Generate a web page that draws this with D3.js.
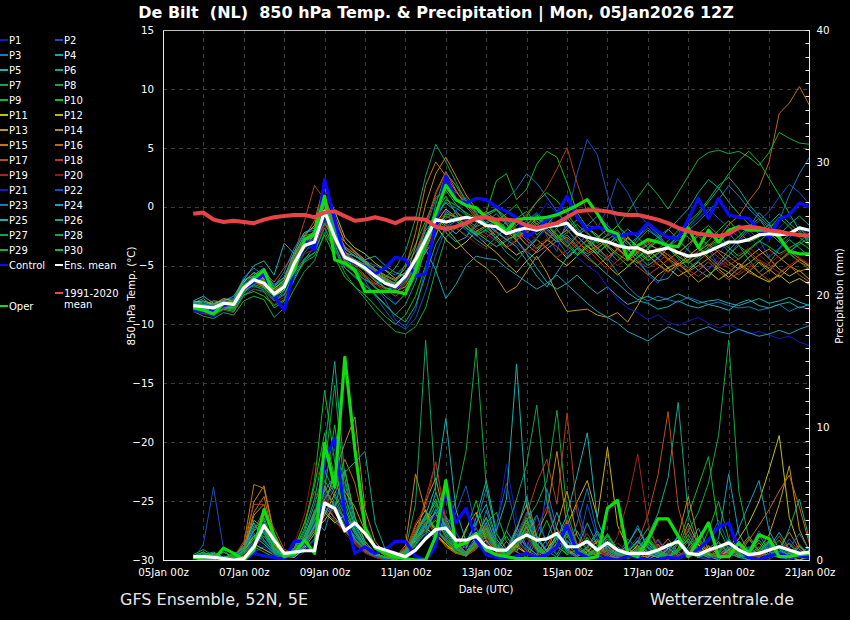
<!DOCTYPE html>
<html><head><meta charset="utf-8">
<script src="https://cdn.jsdelivr.net/npm/d3@7"></script>
<style>html,body{margin:0;background:#000;} svg{display:block;font-family:"DejaVu Sans",sans-serif;}</style>
</head><body><svg id="c" width="850" height="620"></svg>
<script>
// ---------- DATA ----------
const runStartUTC = Date.UTC(2026,0,5,18); // first forecast step
const stepHours = 6;
const xTickDays = [5,7,9,11,13,15,17,19,21];
const tempTicks = [15,10,5,0,-5,-10,-15,-20,-25,-30];
const precipTicks = [0,10,20,30,40];
const memberNames = d3.range(1,31).map(i=>"P"+i);
const memberColors = ["#1818c8","#1850c0","#1878c0","#18a0c0","#18b0b0","#10a888","#10a060","#10a840","#10b828","#10c010",
                      "#c0c010","#c8b010","#c09810","#c08810","#c07810","#c06810","#b85010","#b04018","#a02818","#901818",
                      "#1818c8","#1850c0","#1878c0","#18a0c0","#18b0b0","#10a888","#10a060","#10a840","#10b828","#10c010"];

const ensMeanTemp = [-8.4,-8.5,-8.6,-8.2,-8.3,-6.9,-6.2,-6.5,-7.4,-6.8,-4.8,-3.3,-3.0,-0.4,-2.6,-4.3,-4.7,-5.2,-5.9,-6.5,-6.8,-5.9,-4.5,-2.8,-1.1,-1.3,-1.1,-0.9,-1.1,
  -1.6,-1.7,-2.3,-2.0,-1.8,-2.0,-1.7,-1.6,-1.4,-2.3,-2.6,-2.8,-3.0,-3.3,-3.5,-3.5,-3.9,-3.7,-3.5,-3.9,-4.2,-4.1,-3.8,-3.4,-3.0,-3.0,-2.8,-2.4,-2.3,-2.4,-2.3,-1.8,-2.0];
const controlTemp = [-8.8,-8.9,-8.9,-8.4,-8.2,-6.9,-6.4,-5.7,-7.6,-8.8,-5.4,-2.8,-3.7,2.3,-1.1,-4.3,-4.8,-5.1,-5.7,-5.2,-4.3,-4.5,-5.9,-5.7,-1.4,2.6,0.6,0.3,0.7,
  0.6,0.0,-0.4,-0.9,-2.6,-2.0,-1.1,-0.6,0.9,-0.9,-2.0,-1.7,-2.0,-2.6,-2.3,-2.3,-1.4,-2.1,-2.6,-2.7,-1.1,0.7,-1.0,0.7,-0.7,-0.9,-1.0,-2.0,-2.6,-1.1,-0.7,0.3,0.0];
const operTemp = [-8.6,-8.8,-9.1,-8.2,-8.2,-6.8,-6.1,-5.4,-7.5,-6.8,-5.4,-2.8,-2.3,0.9,-4.5,-4.8,-5.4,-7.2,-7.2,-7.2,-7.2,-7.4,-5.4,-2.8,-0.6,1.8,0.6,0.1,-0.1,
  -0.9,-1.4,-2.1,-1.1,-1.0,-1.0,-0.9,-0.7,-0.3,0.1,0.6,-0.6,-2.0,-2.3,-4.4,-3.3,-2.8,-3.0,-3.3,-3.4,-1.8,-3.5,-2.0,-3.0,-2.0,-1.7,-2.0,-2.0,-2.0,-2.6,-3.8,-4.0,-4.0];
const climTemp = [-0.6,-0.5,-1.1,-1.3,-1.2,-1.3,-1.4,-1.1,-0.9,-0.8,-0.7,-0.7,-0.9,-0.5,-0.4,-0.8,-1.2,-1.1,-0.9,-1.1,-1.4,-1.0,-1.0,-1.1,-1.7,-1.9,-1.7,-1.4,-1.0,
  -0.9,-1.1,-1.1,-1.2,-1.6,-1.8,-1.6,-1.4,-0.9,-0.4,-0.3,-0.3,-0.4,-0.6,-0.7,-0.7,-0.9,-1.1,-1.4,-1.8,-2.1,-2.3,-2.4,-2.5,-2.3,-1.8,-1.7,-1.8,-2.0,-2.1,-2.3,-2.4,-2.5];

const ensMeanPrecip = [0.25,0.25,0.2,0.1,0,0.1,1.0,2.6,1.5,0.5,0.6,0.7,0.7,4.3,3.9,2.2,2.8,2.0,1.0,0.75,0.5,0.25,0.75,1.6,2.3,2.4,1.5,1.5,1.8,
  1.0,0.75,0.75,1.5,1.9,1.5,1.6,2.0,1.0,1.0,1.4,0.75,1.3,0.75,0.5,0.5,0.5,0.75,1.1,1.4,0.5,0.4,0.75,1.0,1.3,0.75,0.4,0.5,0.75,1.0,0.75,0.5,0.6];
const controlPrecip = [0,0,0,0,0,0,0.5,0.3,0.2,0,1.4,1.4,0.5,7.5,9.2,3.5,0.5,1.0,0.5,0.8,1.4,1.4,0.3,0,1.0,5.6,2.8,3.9,1.5,0.4,
  0.2,0,0.3,0.5,0.2,0.4,1.0,2.6,0.6,0.2,0,0.1,0,0.3,0.2,0,0,0.2,0.1,0.5,0.8,1.5,2.5,2.8,0.8,0.2,0,0.3,0.5,0.2,0.3,0.2];
const operPrecip = [0.25,0,0,0.9,0.5,0,0.75,3.8,1.8,0.25,0.5,1.5,0.5,8.8,5.5,15.3,8.3,2.5,0.9,0.5,0.25,0.1,0,0,1.8,6.0,1.0,1.3,2.0,
  0.75,0.4,0.25,0.1,0.1,0.1,0.1,0.1,0.1,0.1,0.1,0.25,3.9,4.5,0.5,0.25,1.5,3.1,3.1,1.8,0.25,1.5,2.8,0.25,0.25,1.3,0.5,1.9,1.6,0.25,0.25,0.4,0.5];

const memberTemp = [
 /*P1*/[-8.6,-8.8,-9.0,-8.5,-8.4,-7.2,-6.5,-6.0,-7.8,-7.0,-5.5,-3.6,-2.8,0.5,-1.8,-4.0,-4.6,-5.5,-6.3,-7.4,-8.2,-7.5,-6.0,-3.5,-0.8,-0.3,-0.8,-1.5,-0.6,-1.2,-2.0,-1.5,-0.9,-2.4,-1.0,0.3,-0.5,-1.8,-3.1,-2.6,-3.4,-4.5,-3.8,-2.9,-4.1,-5.0,-4.3,-3.2,-2.6,-3.8,-4.7,-5.3,-4.1,-2.8,-1.5,-2.3,-3.6,-2.9,-1.8,-0.9,-1.6,-2.4],
 /*P2*/[-8.3,-8.4,-8.8,-8.0,-8.1,-6.5,-5.8,-6.8,-7.2,-6.0,-4.0,-2.6,-3.5,-1.2,-3.4,-5.0,-5.6,-6.2,-6.8,-7.9,-9.6,-10.2,-8.8,-5.2,-2.0,-1.6,-0.4,0.8,-0.5,-1.8,-2.5,-3.4,-2.0,-1.2,-0.6,-2.5,-3.8,-1.0,2.8,5.7,4.4,1.0,-1.5,-3.0,-4.4,-5.8,-6.5,-5.2,-4.6,-3.5,-2.2,-3.6,-5.0,-4.2,-3.0,-2.0,-2.8,-4.3,-3.5,-2.6,-1.8,-2.5],
 /*P3*/[-8.0,-8.2,-8.4,-7.9,-7.8,-6.0,-5.2,-5.9,-6.8,-5.5,-3.5,-2.2,-2.0,0.8,-1.5,-3.6,-4.2,-4.6,-5.0,-5.4,-5.8,-5.0,-3.8,-1.8,0.6,1.6,1.2,0.5,-0.4,-0.8,-1.2,-1.0,-2.2,-3.3,-2.6,-1.8,-2.8,-4.0,-3.2,-2.4,-3.6,-4.4,-5.6,-6.8,-7.6,-8.0,-7.6,-7.9,-8.1,-7.7,-8.0,-8.3,-8.1,-8.4,-8.6,-8.5,-8.8,-8.6,-8.3,-8.9,-8.5,-8.7],
 /*P4*/[-8.2,-7.8,-8.5,-8.1,-8.6,-7.4,-6.0,-5.5,-7.9,-7.4,-5.8,-4.6,-3.9,-1.5,-2.2,-3.8,-4.8,-5.2,-6.0,-6.9,-7.0,-6.2,-5.2,-3.9,-2.5,-0.4,-1.0,-1.8,-2.4,-2.0,-2.7,-3.5,-2.9,-3.8,-4.5,-3.6,-2.9,-1.6,-2.5,-3.4,-4.0,-3.2,-2.5,-3.6,-4.7,-5.6,-6.3,-6.1,-5.0,-4.6,-5.4,-6.0,-4.8,-3.7,-2.8,-1.8,-0.5,-1.4,-2.8,-3.9,-3.0,-2.2],
 /*P5*/[-8.0,-7.6,-8.2,-8.0,-7.6,-6.2,-5.0,-4.6,-5.8,-3.1,-4.0,-3.0,-2.5,0.2,-2.0,-3.0,-3.8,-4.5,-4.2,-5.0,-5.6,-5.9,-4.3,-2.0,-1.0,-2.2,-3.0,-2.6,-1.4,-0.6,-0.2,-1.4,-2.8,-4.0,-5.2,-6.4,-7.0,-6.5,-5.8,-6.7,-7.4,-6.8,-7.6,-8.3,-8.0,-8.2,-8.7,-8.5,-8.0,-8.4,-8.6,-8.3,-8.5,-8.8,-8.2,-7.9,-8.4,-8.6,-8.3,-8.1,-8.6,-8.3],
 /*P6*/[-8.8,-9.0,-9.2,-8.6,-8.8,-7.5,-7.0,-7.2,-8.6,-8.0,-6.2,-4.5,-3.4,-0.9,-3.2,-5.2,-6.0,-6.7,-7.4,-8.3,-9.2,-9.8,-8.4,-5.8,-3.2,-1.8,-1.2,-2.0,-2.8,-3.4,-2.6,-1.8,-1.0,-0.4,-1.5,-2.3,-3.0,-2.4,-3.3,-4.2,-3.6,-2.8,-2.2,-3.0,-4.1,-5.0,-4.4,-3.5,-2.4,-1.3,-0.5,0.6,1.8,2.5,1.5,0.2,-0.8,-1.6,-2.4,-1.5,-0.8,-1.6],
 /*P7*/[-8.5,-8.6,-8.4,-8.3,-8.0,-6.6,-6.8,-7.0,-7.6,-6.3,-4.4,-3.6,-2.6,-0.2,-2.3,-4.8,-5.6,-6.2,-6.6,-6.0,-5.2,-3.8,-1.0,2.6,5.3,3.8,2.1,0.4,-0.6,-1.4,-1.0,-2.1,-2.8,-2.2,-1.5,-0.8,-1.9,-3.0,-4.0,-3.2,-2.5,-3.7,-4.6,-3.8,-2.9,-2.0,-2.6,-3.5,-4.4,-5.2,-4.6,-3.9,-3.0,-2.2,-3.3,-4.5,-5.6,-4.8,-3.6,-2.8,-3.5,-4.2],
 /*P8*/[-8.9,-9.3,-9.5,-9.0,-9.2,-8.0,-7.6,-7.9,-9.4,-8.6,-7.0,-5.5,-4.6,-2.2,-3.6,-5.6,-6.8,-7.8,-8.9,-9.8,-10.6,-10.8,-10.2,-8.6,-5.4,-2.6,-1.8,-2.5,-1.6,-0.8,-0.3,-1.0,-1.9,-2.6,-3.5,-2.9,-1.8,-0.9,-2.0,-2.8,-3.9,-4.6,-3.5,-2.7,-3.4,-4.3,-3.6,-2.9,-2.0,-2.6,-3.4,-4.2,-5.0,-4.1,-3.3,-4.0,-4.8,-5.5,-4.6,-4.0,-4.7,-5.1],
 /*P9*/[-8.4,-8.3,-8.7,-8.2,-8.3,-6.8,-6.0,-5.8,-6.9,-6.4,-4.5,-2.8,-3.2,-0.8,-3.0,-4.6,-5.4,-6.0,-6.9,-7.3,-6.4,-4.9,-3.2,-1.2,0.8,1.4,0.2,-0.6,-1.3,-0.5,2.2,2.8,0.6,1.5,3.6,4.7,4.2,2.0,-0.5,-1.8,-2.6,-1.9,-3.0,-3.8,-2.6,-1.5,-2.3,-3.4,-4.0,-3.2,-2.3,-1.6,-2.4,-3.3,-2.5,-1.7,-1.0,-2.2,-3.0,-2.4,-1.9,-2.6],
 /*P10*/[-8.7,-8.5,-9.0,-8.4,-8.7,-7.3,-6.6,-6.9,-7.9,-7.2,-5.2,-3.9,-2.9,0.9,-2.0,-4.2,-4.5,-4.9,-5.7,-6.3,-6.6,-6.0,-4.6,-3.0,-0.5,0.9,-0.6,-1.8,-2.5,-1.9,-1.2,-0.6,0.2,-1.2,-2.4,-1.6,-0.4,0.7,-0.8,-2.2,-3.1,-2.4,-1.6,-2.5,-3.7,-4.5,-3.9,-3.2,-3.8,-4.6,-3.8,-2.9,-2.0,-1.2,-2.1,-3.0,-2.6,-1.8,-0.9,-1.7,-2.6,-3.3],
 /*P11*/[-8.1,-8.0,-8.3,-7.8,-8.0,-6.4,-5.6,-6.1,-7.0,-6.2,-4.2,-2.4,-1.6,1.6,-0.4,-2.6,-3.5,-4.0,-4.8,-5.4,-6.1,-5.6,-4.4,-2.6,-1.6,-2.8,-3.6,-3.0,-2.1,-1.6,-2.5,-3.4,-4.1,-3.6,-2.8,-3.5,-4.4,-5.0,-4.2,-3.3,-4.1,-5.0,-5.8,-5.1,-4.3,-3.6,-4.4,-5.2,-5.9,-5.4,-4.7,-5.5,-6.2,-5.6,-4.8,-5.4,-6.0,-6.4,-5.8,-6.5,-6.1,-6.6],
 /*P12*/[-8.6,-8.9,-8.8,-8.5,-8.6,-7.0,-6.4,-6.8,-7.6,-7.1,-5.0,-3.0,-3.6,-0.6,-2.9,-4.4,-4.9,-5.4,-6.3,-6.9,-7.2,-6.8,-5.4,-3.8,-1.4,-0.2,-0.9,-1.5,-2.4,-3.2,-3.9,-4.8,-5.6,-4.6,-3.8,-2.8,-3.4,-4.4,-3.6,-2.8,-3.5,-4.3,-3.6,-2.6,-3.4,-4.1,-4.9,-5.5,-4.9,-4.2,-3.5,-4.4,-5.3,-6.0,-5.2,-4.3,-3.6,-4.4,-5.3,-5.9,-5.4,-6.2],
 /*P13*/[-8.2,-8.4,-8.0,-8.1,-7.9,-6.2,-5.9,-6.4,-7.2,-6.6,-4.6,-3.4,-2.4,0.4,-1.6,-3.4,-4.0,-4.8,-5.6,-6.2,-7.0,-6.4,-5.0,-2.6,-0.9,-1.8,-2.8,-3.8,-4.6,-5.2,-6.0,-7.3,-6.8,-5.5,-4.2,-5.6,-7.4,-8.9,-8.8,-8.7,-9.2,-9.4,-9.0,-9.8,-8.4,-6.8,-5.8,-5.2,-4.8,-5.6,-6.4,-5.8,-5.1,-5.6,-6.2,-5.5,-4.7,-5.3,-6.0,-5.2,-4.5,-5.0],
 /*P14*/[-8.4,-8.6,-8.2,-8.4,-8.2,-6.6,-6.2,-6.1,-7.4,-6.7,-4.7,-3.2,-2.0,1.8,-0.8,-3.0,-3.8,-4.7,-5.5,-6.1,-6.5,-6.0,-3.4,0.2,2.8,4.2,2.6,1.0,-0.2,-0.9,-1.5,-2.0,-2.9,-1.8,-1.0,-1.5,-2.6,-3.4,-2.5,-1.8,-2.4,-3.3,-4.0,-4.6,-3.9,-3.2,-3.6,-4.4,-5.0,-4.5,-3.8,-3.2,-3.9,-4.7,-5.3,-4.8,-4.1,-3.6,-4.3,-5.0,-5.5,-5.2],
 /*P15*/[-8.5,-8.7,-8.6,-8.3,-8.5,-6.8,-6.4,-6.7,-7.5,-6.9,-4.9,-3.5,-2.6,0.9,-1.5,-3.5,-4.2,-4.6,-5.3,-5.8,-6.2,-5.2,-2.2,1.8,3.8,2.6,1.3,0.2,-0.8,-1.5,-2.2,-2.8,-2.4,-3.2,-3.9,-3.3,-2.6,-2.0,-2.9,-3.8,-3.3,-2.7,-3.5,-4.3,-4.8,-4.2,-3.5,-4.1,-4.9,-5.5,-5.0,-4.4,-3.7,-4.2,-4.9,-5.6,-6.0,-5.4,-4.6,-3.8,-4.4,-5.1],
 /*P16*/[-8.3,-8.5,-8.4,-8.0,-8.2,-6.7,-6.0,-6.2,-7.1,-6.5,-4.4,-2.6,-1.2,2.0,-1.0,-3.0,-3.9,-4.6,-5.4,-6.0,-6.6,-6.1,-4.2,-1.6,1.2,3.0,1.4,0.0,-1.0,-0.4,-1.2,-1.9,-2.6,-2.0,-1.4,-2.2,-3.0,-2.6,-3.4,-4.0,-3.5,-2.9,-3.6,-4.4,-3.8,-3.0,-3.7,-4.5,-3.9,-3.2,-2.5,-3.3,-2.6,-1.5,-0.8,0.5,1.6,3.8,7.9,8.8,10.2,8.6],
 /*P17*/[-8.7,-8.8,-9.1,-8.6,-8.7,-7.1,-6.5,-5.6,-6.4,-5.2,-4.0,-2.9,-3.1,-1.4,-3.0,-4.6,-5.0,-5.8,-6.5,-7.0,-7.6,-7.0,-5.8,-3.4,-1.7,-1.0,-0.5,-1.2,-2.0,-2.6,-2.0,-1.3,-2.0,-2.9,-3.6,-2.9,-2.0,-2.8,-3.6,-4.4,-5.0,-4.3,-3.6,-4.3,-5.1,-5.8,-5.2,-4.5,-5.3,-6.0,-5.4,-4.7,-5.5,-6.2,-5.6,-4.8,-5.6,-6.3,-5.7,-5.0,-5.8,-6.4],
 /*P18*/[-8.6,-8.6,-8.9,-8.4,-8.5,-7.0,-6.5,-6.6,-7.3,-6.5,-4.0,-1.2,1.8,0.6,-1.6,-3.8,-4.5,-5.0,-5.7,-6.4,-6.9,-6.3,-4.6,-1.5,1.0,2.9,1.8,0.2,-0.7,-1.0,-1.6,-2.2,-1.6,-0.6,0.4,1.6,3.2,5.0,2.0,-0.5,-1.6,-2.5,-2.0,-3.0,-3.8,-3.2,-2.6,-3.4,-4.2,-4.8,-4.2,-3.6,-4.3,-5.0,-4.4,-3.8,-4.6,-5.2,-4.6,-3.9,-4.7,-5.3],
 /*P19*/[-8.4,-8.5,-8.6,-8.2,-8.4,-6.9,-6.1,-6.5,-7.4,-6.6,-4.6,-3.1,-2.7,-0.1,-2.4,-4.0,-4.6,-5.2,-5.9,-6.6,-7.1,-6.4,-5.0,-3.2,-1.3,-0.6,-0.9,-1.4,-1.8,-2.3,-2.9,-3.5,-2.8,-2.1,-2.8,-3.6,-4.3,-3.7,-3.0,-3.6,-4.5,-5.3,-4.6,-3.9,-4.6,-5.2,-4.7,-4.0,-4.7,-5.4,-5.9,-5.3,-4.6,-5.2,-5.8,-5.2,-4.5,-5.0,-5.6,-5.0,-4.4,-4.9],
 /*P20*/[-8.9,-9.1,-9.3,-8.8,-9.0,-7.6,-7.0,-7.3,-8.3,-7.7,-5.6,-4.0,-3.6,-1.6,-3.8,-5.0,-5.5,-6.0,-6.6,-7.2,-7.4,-6.6,-5.3,-3.7,-2.0,-1.5,-1.8,-2.4,-3.1,-3.6,-3.0,-2.5,-3.2,-3.9,-3.3,-2.7,-3.4,-4.2,-3.6,-2.9,-3.6,-4.3,-5.0,-4.4,-3.7,-4.3,-5.0,-5.6,-5.0,-4.3,-3.8,-4.5,-5.1,-4.6,-4.0,-3.5,-4.1,-4.8,-4.2,-3.6,-4.3,-4.9],
 /*P21*/[-8.8,-8.9,-9.4,-8.7,-8.9,-7.4,-6.8,-7.0,-7.9,-7.3,-5.4,-3.8,-3.3,-0.9,-2.8,-4.4,-4.9,-5.3,-6.0,-6.6,-7.0,-6.3,-4.8,-3.0,-1.5,-0.8,-1.4,-2.0,-2.5,-3.0,-2.4,-1.8,-2.5,-3.3,-2.6,-2.0,-2.7,-3.5,-4.3,-5.0,-5.6,-6.8,-7.9,-8.6,-9.0,-9.6,-9.2,-9.8,-10.1,-9.7,-9.4,-9.9,-10.3,-10.0,-10.4,-10.8,-10.6,-10.9,-11.2,-11.0,-11.5,-11.8],
 /*P22*/[-8.3,-8.2,-8.5,-8.1,-8.0,-6.5,-5.9,-6.3,-7.2,-6.7,-4.5,-3.0,-2.8,-0.3,-2.5,-4.4,-5.3,-6.3,-7.6,-8.8,-9.9,-10.4,-9.5,-7.2,-4.1,-1.8,-0.8,-1.2,-2.2,-2.8,-3.4,-2.7,-2.0,-1.2,-0.5,-1.4,-2.3,-3.1,-2.4,-1.6,-1.8,-0.2,2.4,1.2,-0.6,-1.5,-2.5,-3.3,-2.6,-1.8,-1.0,-0.2,-1.0,-1.8,-2.6,-1.9,-1.2,-0.4,0.8,1.9,1.2,0.2],
 /*P23*/[-8.5,-8.4,-8.7,-8.3,-8.4,-7.0,-6.3,-6.6,-7.5,-6.9,-4.9,-3.4,-3.1,-0.5,-2.7,-4.3,-4.8,-5.3,-6.0,-6.5,-6.9,-6.2,-4.9,-3.3,-1.0,0.4,-0.1,-0.7,-1.1,-0.7,-0.1,0.6,1.5,2.8,2.0,0.8,-0.4,-1.5,-2.2,-1.6,-0.8,-1.6,-2.5,-3.2,-2.6,-1.8,-2.6,-3.4,-2.8,-2.0,-1.3,-0.4,0.6,1.8,0.9,-0.2,-1.0,-1.8,-1.2,1.0,2.8,4.2],
 /*P24*/[-8.1,-8.3,-8.5,-8.0,-8.2,-6.8,-6.1,-6.4,-7.3,-6.7,-4.7,-3.2,-2.9,-0.3,-2.5,-4.1,-4.5,-5.0,-5.7,-6.2,-6.6,-5.9,-4.6,-3.6,-5.4,-7.8,-6.6,-5.0,-4.2,-4.4,-4.5,-5.2,-5.8,-6.4,-7.0,-6.5,-5.8,-6.6,-7.4,-8.2,-8.9,-9.4,-9.9,-10.6,-11.0,-11.4,-10.8,-10.2,-10.6,-10.9,-10.5,-10.2,-10.6,-10.8,-10.4,-10.7,-11.0,-10.8,-10.5,-10.8,-10.4,-10.1],
 /*P25*/[-8.6,-8.7,-8.9,-8.5,-8.6,-7.2,-5.8,-5.2,-6.8,-6.0,-3.8,-2.2,-1.8,0.2,-2.2,-3.9,-4.2,-4.6,-5.3,-5.9,-6.3,-5.6,-4.2,-2.4,-0.9,-1.6,-2.3,-1.5,-0.8,-1.4,-2.1,-2.8,-3.4,-4.6,-5.9,-6.8,-5.6,-4.3,-3.5,-4.2,-5.0,-5.8,-6.5,-7.3,-7.9,-7.6,-8.0,-7.8,-7.4,-7.8,-8.2,-8.0,-7.9,-8.2,-8.4,-8.1,-7.8,-8.2,-8.0,-7.7,-8.1,-8.4],
 /*P26*/[-8.2,-8.1,-8.4,-8.0,-8.1,-6.3,-5.6,-5.9,-6.6,-6.0,-4.0,-2.5,-2.2,0.7,-1.8,-3.6,-4.2,-4.8,-5.6,-6.2,-6.7,-6.0,-4.5,-2.5,-0.6,0.3,-0.4,-1.1,-1.7,-1.3,-0.6,-1.5,-2.4,-1.6,-0.8,-1.8,-2.7,-1.9,-1.1,-1.8,-2.6,-3.4,-2.7,-1.9,-2.6,-3.5,-2.8,-2.0,-1.1,-0.2,1.2,2.3,1.6,0.4,-0.6,-1.5,-2.3,-1.5,-0.6,-1.4,-2.2,-2.9],
 /*P27*/[-8.7,-8.8,-9.0,-8.7,-8.6,-7.1,-6.7,-7.1,-8.0,-7.5,-5.6,-4.4,-3.9,-1.8,-3.6,-5.2,-5.9,-6.6,-7.5,-8.4,-9.2,-8.3,-6.4,-3.5,0.2,2.8,1.8,0.6,-0.5,-1.6,-2.8,-3.9,-4.6,-3.6,-2.7,-1.6,-0.5,-1.4,-2.5,-3.4,-2.7,-1.9,-2.7,-3.6,-4.3,-3.5,-2.6,-1.9,-2.8,-3.7,-4.4,-3.6,-2.9,-3.8,-4.5,-3.7,-3.0,-2.2,-3.0,-3.8,-3.2,-2.6],
 /*P28*/[-8.5,-8.6,-8.7,-8.4,-8.5,-6.9,-6.3,-6.6,-7.6,-6.9,-4.9,-3.3,-3.0,-0.6,-2.7,-4.4,-4.9,-5.4,-6.2,-6.9,-7.3,-6.5,-5.1,-3.2,-1.4,-0.8,-1.2,-1.8,-2.3,-1.7,-1.1,-1.8,-2.5,-1.9,-1.2,-2.0,-2.8,-2.2,-1.5,-2.3,-3.0,-2.4,-1.6,-0.5,0.8,2.0,1.0,-0.2,1.2,2.6,4.0,4.6,4.8,4.5,4.7,4.2,3.5,4.6,6.3,5.8,5.4,5.3],
 /*P29*/[-8.3,-8.4,-8.6,-8.2,-8.3,-6.7,-6.1,-6.3,-7.3,-6.5,-4.5,-2.9,-2.5,-0.2,-2.4,-4.5,-5.2,-5.9,-6.8,-7.6,-8.3,-7.4,-5.9,-3.6,-1.0,0.6,0.1,-0.5,-1.0,-0.6,-0.2,-0.9,-1.6,-0.8,0.4,1.2,0.5,-0.6,-1.8,-2.9,-3.9,-3.2,-2.4,-3.0,-3.9,-4.6,-4.0,-3.3,-2.5,-1.6,-0.7,0.4,1.5,2.8,3.9,4.7,3.8,2.4,1.0,-0.6,-2.0,-3.2],
 /*P30*/[-8.6,-8.9,-9.2,-8.7,-8.9,-7.5,-7.2,-7.6,-8.4,-7.9,-6.0,-4.7,-4.2,-2.4,-4.3,-6.0,-6.8,-7.5,-8.4,-9.3,-10.0,-9.2,-7.6,-5.0,-2.4,-0.6,-0.9,-1.6,-2.2,-2.8,-3.4,-2.9,-2.3,-1.5,-0.7,-1.5,-2.4,-3.3,-4.1,-3.5,-2.8,-3.4,-4.2,-5.0,-4.3,-3.6,-2.9,-3.5,-4.2,-4.8,-4.1,-3.4,-2.8,-3.5,-4.2,-3.6,-2.9,-3.4,-4.0,-3.5,-3.0,-3.6]
];

const memberPrecip = [
 /*P1*/[0,0.3,0.2,0,0,0.5,1.2,0.8,0.3,0,0,0.6,1.5,3.2,4.5,2.8,1.6,0.9,0.4,0.2,0,0.3,1.2,2.6,3.4,1.8,0.9,2.2,1.5,0.6,2.4,7.2,3.1,0.8,0.3,1.2,0.4,0,0.8,1.6,0.5,0.2,0,0.6,1.4,0.7,0.2,0,0.3,0.9,0.4,0,0.2,1.1,0.5,0,0.3,0.8,0.2,0,0.4,0.2],
 /*P2*/[0,1.2,5.5,0.8,0,0.2,0.6,1.0,0.4,0.2,0.5,1.1,2.4,4.6,6.2,3.5,1.2,0.6,0.2,0,0,0.1,0.6,1.8,3.9,2.4,1.1,0.5,1.2,2.3,1.0,0.4,1.8,3.6,1.2,0.3,0.8,2.1,4.2,1.4,0.6,0.2,0,0.4,1.0,0.3,0,0.5,1.3,0.6,0.2,0,0.8,1.5,0.4,0.9,0.3,0,0.6,0.2,0,0.3],
 /*P3*/[0.2,0.1,0,0,0.3,0.9,1.8,1.2,0.5,0.2,0.3,1.5,3.1,2.2,4.8,5.9,2.4,1.0,0.5,0.2,0.1,0.4,1.4,2.2,1.6,3.3,2.1,0.8,2.6,5.4,2.0,0.8,2.5,1.1,0.4,5.4,2.3,0.6,0.2,1.0,0.4,0,0.3,1.6,0.8,0.2,0.6,0.3,0,0.5,1.2,0.4,0.1,0.7,0.2,0,0.4,1.1,0.5,0.2,0,0.2],
 /*P4*/[0.3,0.6,0.2,0,0,0.4,2.4,3.0,0.8,0.3,0.2,0.8,1.6,3.8,2.9,2.2,1.4,0.8,0.3,0.1,0.2,0.6,2.0,3.1,4.4,2.5,1.0,0.4,1.2,0.8,0.5,2.2,1.0,0.5,1.8,0.7,0.2,1.4,0.9,2.8,1.1,0.4,0.1,0.3,0.9,0.4,1.5,0.6,0.2,1.0,2.4,0.8,1.6,6.5,2.0,0.6,0.2,0.9,2.1,0.8,0.3,0.1],
 /*P5*/[0.1,0.4,0.3,0,0.2,1.2,2.8,1.5,0.6,0.2,0.4,1.2,2.8,4.4,3.6,2.5,1.6,0.9,0.4,0.2,0,0.5,1.0,2.4,5.1,3.2,1.4,0.9,3.2,6.0,2.2,4.6,14.8,4.0,1.2,0.5,2.0,0.8,0.3,0.9,1.6,0.6,0.2,0.8,0.3,0,0.5,1.3,0.4,0.2,0.9,0.3,0,0.6,1.4,0.5,0.2,0.7,0.3,0,0.5,1.0],
 /*P6*/[0,0.2,0.5,0.1,0,0.8,1.6,2.1,0.6,0.3,0.8,2.2,4.6,8.4,15.0,6.2,2.8,1.2,0.5,0.2,0.1,0.6,1.8,3.4,2.2,1.5,0.8,0.4,1.6,2.4,0.9,0.4,1.3,2.6,0.8,0.3,1.0,0.5,2.2,0.8,0.3,1.1,0.4,0.2,0.9,1.8,3.5,6.2,11.9,3.4,1.2,0.4,0.2,0.8,0.3,0,0.6,1.4,0.5,0.2,0,0.3],
 /*P7*/[0.2,0.5,0.2,0,0.1,0.6,2.0,1.4,0.7,0.3,0.5,1.4,3.3,5.0,4.2,2.6,1.8,1.0,0.4,0.1,0.3,0.8,4.2,16.6,5.2,2.4,1.1,0.5,0.9,1.8,0.6,0.2,0.8,1.9,0.7,0.3,0.9,2.0,0.8,0.3,0.6,1.3,0.5,0.1,0.4,1.0,0.4,0,0.7,1.6,0.6,0.2,0.5,1.2,0.4,0.8,1.9,0.7,0.2,0.5,1.1,0.4],
 /*P8*/[0.4,0.8,0.3,0,0.2,0.9,1.4,2.6,1.0,0.4,0.6,1.6,3.6,6.0,4.8,3.0,1.6,0.8,0.3,0.1,0,0.4,1.4,2.8,3.6,2.0,4.6,8.2,16.0,5.5,2.0,0.8,1.6,3.0,4.2,6.0,11.3,3.6,1.2,0.5,0.9,1.8,0.6,0.3,1.2,2.4,0.9,0.3,0.8,1.6,0.5,0.2,0.7,1.5,0.6,0.2,0.4,1.0,0.3,0.8,0.3,0.1],
 /*P9*/[0,0.3,0.2,0.6,0.2,0.5,1.0,0.6,0.2,0.4,0.8,2.4,6.0,12.8,7.4,3.2,1.6,0.7,0.2,0.1,0.2,0.6,1.6,3.0,4.6,2.2,1.2,0.6,1.4,2.8,3.6,1.4,0.6,2.0,3.4,1.2,0.4,1.8,0.7,0.3,1.1,0.5,0.2,0.9,0.4,1.6,0.6,0.2,1.2,3.4,5.6,7.8,2.4,0.8,0.3,1.0,0.4,0.2,0.6,1.3,0.5,0.2],
 /*P10*/[0.3,0.1,0,0.2,0.5,0.8,1.6,3.2,1.2,0.4,0.3,1.0,2.5,5.4,10.2,4.4,2.0,1.0,0.4,0.2,0,0.3,1.1,2.2,3.0,1.8,0.8,2.2,4.5,1.6,0.7,1.8,0.6,0.2,1.4,3.0,1.1,0.4,0.8,1.7,0.6,0.3,1.0,0.4,0.1,0.6,1.2,0.5,0.2,0.8,1.7,0.6,0.2,0.5,1.0,0.4,0.2,0.7,1.5,0.5,0.2,0.4],
 /*P11*/[0,0.2,0.4,0.1,0,0.3,1.2,0.8,0.4,0.2,0.4,1.3,2.6,3.6,2.8,3.4,2.2,1.0,0.3,0.1,0.1,0.5,1.5,2.4,1.8,1.2,0.6,0.3,0.9,1.5,0.6,0.3,1.0,0.5,0.2,0.8,1.8,0.7,0.3,0.6,1.4,0.5,0.2,0.4,1.1,0.4,0.2,0.9,0.3,0.6,1.2,0.4,0.2,0.7,1.6,2.8,4.4,6.8,9.4,3.2,1.0,0.4],
 /*P12*/[0.2,0.4,0.1,0,0.3,0.7,1.8,2.4,0.9,0.3,0.2,0.9,2.0,3.4,5.0,6.8,3.2,1.4,0.5,0.2,0.1,0.7,2.6,3.8,2.0,1.2,0.5,2.4,3.6,1.4,0.6,0.2,0.9,2.2,0.8,0.3,1.2,2.6,4.4,6.0,3.2,8.5,2.6,0.9,0.4,0.2,0.8,0.4,0.2,0.6,0.3,1.0,0.4,0.2,0.8,0.3,0.6,1.4,0.5,0.2,0,0.3],
 /*P13*/[0,0.3,0.5,0.2,0,0.6,3.4,4.2,1.2,0.4,0.3,1.1,2.2,3.0,4.1,5.2,4.0,2.2,0.9,0.3,0.2,0.6,1.8,4.4,6.2,2.8,1.3,0.6,1.8,3.2,1.2,0.5,2.4,4.2,1.6,0.6,2.6,5.2,1.8,0.7,0.3,1.0,0.4,0.2,0.6,1.5,0.5,0.2,0.9,2.8,1.1,0.4,0.2,0.5,1.2,0.4,0.8,1.9,4.2,7.1,2.3,0.6],
 /*P14*/[0.1,0.3,0.2,0,0.2,0.8,4.4,5.6,2.0,0.6,0.4,1.5,3.0,4.2,6.6,8.8,10.8,3.8,1.4,0.5,0.2,1.1,6.5,3.6,2.2,1.4,0.7,0.3,1.0,2.1,0.8,0.3,1.2,0.5,2.0,3.6,8.2,2.4,0.8,0.3,0.9,0.4,0.2,0.7,1.4,0.5,0.2,0.6,1.8,4.8,1.5,0.5,0.2,0.8,0.3,0.6,1.3,0.4,0.2,0.5,0.2,0.1],
 /*P15*/[0,0.2,0.4,0.1,0.3,1.2,5.7,5.4,1.8,0.5,0.6,1.8,3.4,5.6,4.0,3.2,2.0,1.1,0.4,0.2,0.1,0.5,1.6,2.8,3.6,1.6,0.8,0.4,1.3,2.6,1.0,0.4,1.6,0.7,0.3,1.1,2.4,0.9,0.3,0.7,1.5,0.6,0.2,0.9,0.4,0.2,0.7,1.6,0.6,0.2,0.5,1.1,0.4,0.2,0.8,1.8,0.7,0.3,0.9,2.1,0.8,0.3],
 /*P16*/[0.2,0.1,0,0.3,0.2,0.9,3.6,4.8,1.4,0.4,0.3,1.2,2.6,4.0,5.4,7.6,5.8,2.4,1.0,0.3,0.2,0.8,2.2,3.4,2.0,1.0,0.5,1.1,2.4,1.0,0.4,1.4,0.6,2.8,1.2,0.4,1.0,2.2,0.8,0.3,0.6,1.2,0.5,0.2,0.8,0.3,1.1,0.5,0.2,0.6,1.4,0.5,0.3,0.9,0.4,1.5,2.6,3.8,5.2,6.4,4.0,1.2],
 /*P17*/[0,0.2,0.1,0,0.4,1.0,2.2,3.8,2.4,0.8,0.5,1.6,3.8,4.6,3.0,2.2,1.3,0.6,0.2,0.1,0.3,0.9,2.4,3.2,1.8,1.1,0.5,0.3,0.8,1.9,0.7,0.3,1.1,2.4,1.0,0.4,1.6,3.0,1.2,0.4,0.8,0.3,0.1,0.6,1.3,3.4,6.4,11.2,4.0,1.2,0.4,0.8,0.3,0.2,0.7,1.6,0.6,0.2,0.5,1.2,0.4,0.2],
 /*P18*/[0.1,0.4,0.2,0,0.2,1.4,4.2,4.2,1.5,0.6,0.9,2.8,5.2,4.0,3.2,2.4,1.5,0.8,0.3,0.1,0.2,0.6,2.0,4.6,7.4,3.0,1.4,0.6,1.4,2.6,1.0,0.4,1.6,3.4,5.8,7.6,4.2,11.1,3.5,1.0,0.4,0.9,0.3,0.2,0.8,0.4,1.2,0.5,0.2,0.7,1.6,0.6,0.2,0.5,1.1,0.4,0.2,0.8,1.8,0.6,0.2,0.4],
 /*P19*/[0,0.2,0.3,0.1,0,0.5,1.4,2.6,1.0,0.3,0.6,1.8,3.0,4.8,3.6,2.4,1.4,0.7,0.3,0.1,0,0.5,2.8,4.0,7.4,2.6,1.1,0.5,1.2,2.2,0.8,0.3,1.4,0.6,2.4,4.0,1.6,0.6,1.0,2.0,0.8,0.3,1.8,4.4,8.0,2.8,0.9,0.4,1.2,2.4,0.9,0.3,0.2,0.6,1.4,0.5,0.2,0.8,0.3,0.6,1.2,0.4],
 /*P20*/[0.2,0.4,0.2,0,0.1,0.4,1.0,1.8,0.8,0.4,1.2,3.4,7.4,5.2,3.0,2.0,1.2,0.5,0.2,0,0.1,0.4,1.3,2.2,3.2,1.6,0.7,0.3,0.9,1.6,0.6,0.2,0.8,1.7,0.6,0.3,1.1,2.4,0.9,0.4,0.2,0.6,1.3,0.5,0.2,0.7,1.6,0.6,0.3,0.9,0.4,0.2,0.6,1.3,0.5,0.2,0.4,0.9,0.3,0.2,0.5,0.2],
 /*P21*/[0,0.1,0.3,0.2,0,0.6,1.4,1.0,0.4,0.2,0.3,1.2,2.8,4.4,5.6,3.4,1.8,0.9,0.3,0.1,0.2,0.4,1.0,2.4,3.4,4.8,2.0,0.8,1.6,3.0,1.2,0.5,1.5,0.6,1.9,4.6,1.8,0.6,0.3,1.2,0.5,0.2,0.9,0.4,0.2,0.6,1.4,0.5,0.2,0.8,0.3,0.1,0.5,0.2,0.7,0.3,0.1,0.4,0.2,0,0.3,0.1],
 /*P22*/[0.3,0.5,0.2,0,0.3,0.8,2.0,1.4,0.5,0.3,0.5,1.6,3.6,6.4,8.4,4.0,2.0,1.0,0.4,0.2,0.1,0.5,1.4,3.0,2.2,1.5,3.6,5.6,2.4,1.0,2.6,5.8,2.2,0.8,3.4,1.2,0.5,1.5,0.6,4.2,1.6,0.5,0.2,0.8,1.7,0.6,0.3,1.0,0.4,0.2,0.6,1.4,3.0,1.2,0.4,0.8,2.2,0.9,0.3,1.6,0.6,0.2],
 /*P23*/[0.1,0.3,0.2,0.1,0,0.5,1.6,2.2,0.9,0.3,0.4,1.0,2.4,3.6,4.4,3.0,1.5,0.7,0.3,0.1,0.2,0.6,1.8,2.6,1.6,2.8,1.2,0.6,1.0,3.8,1.4,0.5,1.3,3.0,1.0,0.4,1.8,0.7,2.8,5.4,2.0,0.7,0.3,1.1,2.6,1.0,0.4,0.2,0.9,2.2,0.8,0.3,0.6,1.6,0.6,0.2,0.5,1.2,0.4,0.9,2.0,0.7],
 /*P24*/[0.2,0.1,0,0.2,0.4,0.9,2.2,2.8,1.1,0.4,0.3,1.3,2.6,4.0,3.2,2.2,1.8,1.0,0.4,0.2,0,0.4,1.2,2.0,3.8,2.6,1.2,0.5,1.6,2.8,1.0,0.4,2.0,1.0,0.4,1.6,3.6,1.2,0.4,1.0,2.2,0.8,0.3,0.6,1.4,0.5,0.2,0.8,1.8,0.6,0.2,0.5,1.3,0.5,2.4,4.2,6.0,2.2,0.8,0.3,1.0,0.4],
 /*P25*/[0,0.3,0.4,0.1,0.2,0.7,3.0,2.4,0.8,0.3,0.6,1.8,3.6,5.2,6.4,4.8,2.6,1.2,0.5,0.2,0.1,0.5,1.8,3.4,5.6,10.7,3.8,1.4,2.8,4.2,1.6,0.6,2.2,4.8,1.8,0.6,1.6,3.4,6.4,9.6,3.0,1.0,0.4,1.2,2.4,0.9,0.3,0.8,1.8,0.6,0.2,0.6,1.4,0.5,0.2,0.7,1.5,0.6,0.2,0.5,0.2,0.1],
 /*P26*/[0.1,0.4,0.6,0.2,0,0.8,2.6,2.0,0.7,0.3,0.4,1.4,3.0,4.6,5.8,6.6,7.4,8.2,2.8,0.8,0.3,0.6,1.6,2.6,3.6,2.0,0.9,0.4,1.5,2.4,0.9,0.3,1.1,2.5,0.9,0.4,1.0,2.2,0.8,0.3,0.7,1.6,0.6,0.2,0.5,1.2,0.5,0.2,0.6,1.4,0.5,0.2,0.4,1.0,0.4,0.2,0.6,1.3,0.5,2.4,4.6,1.5],
 /*P27*/[0.2,0.5,0.2,0,0.2,0.6,1.3,1.8,0.7,0.3,0.7,2.0,4.2,6.8,5.0,3.4,2.0,1.0,0.4,0.2,0.1,0.6,2.0,3.2,2.4,1.6,0.8,0.4,1.2,2.0,0.8,2.2,4.6,7.2,11.7,4.4,1.6,0.6,0.3,0.9,2.0,0.8,0.3,0.6,1.5,0.6,0.2,0.5,1.3,0.5,0.2,0.6,1.4,0.5,0.2,0.4,1.0,0.4,0.2,0.6,0.3,0.1],
 /*P28*/[0,0.2,0.4,0.2,0.1,0.5,1.2,2.0,1.0,0.3,0.5,1.5,3.2,7.0,13.2,5.0,2.2,1.0,0.4,0.2,0.1,0.4,1.2,2.4,3.0,1.8,0.8,0.3,1.1,2.2,0.8,0.3,1.0,2.2,0.8,0.3,0.9,2.0,0.8,0.3,0.6,1.4,0.5,0.2,0.8,1.8,0.7,0.3,0.9,2.2,3.6,5.8,9.4,16.6,5.2,1.6,0.6,0.3,0.9,0.4,0.2,0.1],
 /*P29*/[0.3,0.6,0.2,0,0.3,1.0,1.8,1.2,0.5,0.2,0.4,1.6,3.4,5.4,4.0,6.8,3.2,1.4,0.5,0.2,0.1,0.5,1.4,2.6,4.2,2.2,1.0,0.4,1.6,3.2,1.2,0.4,1.4,3.2,1.2,0.4,1.2,2.6,1.0,0.4,0.8,1.9,0.7,0.3,0.6,1.4,0.6,0.2,0.7,1.6,0.6,2.2,4.4,1.6,0.5,0.2,0.6,1.4,0.5,0.2,0.5,0.2],
 /*P30*/[0.1,0.2,0.3,0.6,0.2,0.7,1.6,2.4,0.9,0.4,0.9,2.8,5.6,9.6,6.2,3.8,2.2,1.0,0.4,0.2,0.2,0.7,2.0,3.4,2.4,1.4,0.6,0.3,1.2,2.4,0.9,0.3,1.4,3.0,1.1,0.4,1.3,2.8,1.0,0.4,0.9,2.0,0.8,0.3,0.7,1.6,0.6,0.2,0.8,1.9,0.7,0.3,0.6,1.4,0.5,0.2,0.7,1.5,0.6,0.2,0.5,0.2]
];

// ---------- LAYOUT ----------
const L = 163, R = 809.5, T = 30, B = 560;
const svg = d3.select("#c");
svg.append("rect").attr("width",850).attr("height",620).attr("fill","#000");

const x = d3.scaleUtc().domain([Date.UTC(2026,0,5), Date.UTC(2026,0,21)]).range([L, R]);
const yT = d3.scaleLinear().domain([-30,15]).range([B, T]);
const yP = d3.scaleLinear().domain([0,40]).range([B, T]);
const times = d3.range(ensMeanTemp.length).map(i => new Date(runStartUTC + i*stepHours*3600e3));

// grid
const grid = svg.append("g").attr("stroke","#3c3c3c").attr("stroke-width",1).attr("stroke-dasharray","4,4");
d3.utcDay.range(new Date(Date.UTC(2026,0,6)), new Date(Date.UTC(2026,0,21))).forEach(d=>{
  grid.append("line").attr("x1",Math.round(x(d))+0.5).attr("x2",Math.round(x(d))+0.5).attr("y1",T).attr("y2",B);
});
tempTicks.filter(t=>t>-30 && t<15).forEach(t=>{
  grid.append("line").attr("x1",L).attr("x2",R).attr("y1",Math.round(yT(t))+0.5).attr("y2",Math.round(yT(t))+0.5);
});

svg.append("clipPath").attr("id","clip").append("rect").attr("x",L).attr("y",T).attr("width",R-L).attr("height",B-T+1);
const plot = svg.append("g").attr("clip-path","url(#clip)");

const lineT = d3.line().x((d,i)=>x(times[i])).y(d=>yT(d));
const lineP = d3.line().x((d,i)=>x(times[i])).y(d=>yP(d));

// members precipitation
memberPrecip.forEach((arr,j)=>{
  plot.append("path").attr("d",lineP(arr)).attr("fill","none").attr("stroke",memberColors[j]).attr("stroke-width",1);
});
// members temperature
memberTemp.forEach((arr,j)=>{
  plot.append("path").attr("d",lineT(arr)).attr("fill","none").attr("stroke",memberColors[j]).attr("stroke-width",1);
});
// main lines
const mainStyle = [
  {t:controlTemp, p:controlPrecip, c:"#0a0aff", w:3.2},
  {t:operTemp, p:operPrecip, c:"#10dc10", w:3.2},
  {t:ensMeanTemp, p:ensMeanPrecip, c:"#ffffff", w:3.2}
];
mainStyle.forEach(s=>{
  plot.append("path").attr("d",lineP(s.p)).attr("fill","none").attr("stroke",s.c).attr("stroke-width",s.w).attr("stroke-linejoin","round");
});
mainStyle.forEach(s=>{
  plot.append("path").attr("d",lineT(s.t)).attr("fill","none").attr("stroke",s.c).attr("stroke-width",s.w).attr("stroke-linejoin","round");
});
plot.append("path").attr("d",lineT(climTemp)).attr("fill","none").attr("stroke","#e84448").attr("stroke-width",4).attr("stroke-linejoin","round");

// frame
const frame = svg.append("g").attr("stroke","#e8e8e8").attr("stroke-width",1);
frame.append("line").attr("x1",L+0.5).attr("x2",L+0.5).attr("y1",T).attr("y2",B+0.5);
frame.append("line").attr("x1",L).attr("x2",R).attr("y1",B+0.5).attr("y2",B+0.5);
frame.append("line").attr("x1",R).attr("x2",R).attr("y1",T).attr("y2",B+0.5);
frame.append("line").attr("x1",L).attr("x2",R).attr("y1",T+0.5).attr("y2",T+0.5).attr("stroke","#bbb");

// axes
const fs = "10.3px";
const axL = svg.append("g").attr("transform",`translate(${L},0)`)
  .call(d3.axisLeft(yT).tickValues(tempTicks).tickSize(0).tickPadding(9));
const axB = svg.append("g").attr("transform",`translate(0,${B})`)
  .call(d3.axisBottom(x).tickValues(xTickDays.map(d=>new Date(Date.UTC(2026,0,d)))).tickFormat(d3.utcFormat("%d%b %Hz")).tickSize(0).tickPadding(9));
const axR = svg.append("g").attr("transform",`translate(${R},0)`)
  .call(d3.axisRight(yP).tickValues(precipTicks).tickSize(0).tickPadding(7));
[axL,axB,axR].forEach(a=>{
  a.select(".domain").remove();
  a.selectAll("text").attr("fill","#fff").style("font-size",fs).style("font-family","DejaVu Sans");
});
// right minor ticks
svg.append("g").attr("stroke","#e8e8e8").selectAll("line").data(d3.range(0,41)).join("line")
  .attr("x1",R-4).attr("x2",R).attr("y1",d=>Math.round(yP(d))+0.5).attr("y2",d=>Math.round(yP(d))+0.5);

// axis titles
svg.append("text").attr("transform","translate(135,296) rotate(-90)").attr("text-anchor","middle")
  .attr("fill","#fff").style("font-size","10.3px").text("850 hPa Temp. (°C)");
svg.append("text").attr("transform","translate(843,296) rotate(-90)").attr("text-anchor","middle")
  .attr("fill","#fff").style("font-size","10.3px").text("Precipitation (mm)");
svg.append("text").attr("x",486).attr("y",593).attr("text-anchor","middle")
  .attr("fill","#fff").style("font-size","10px").text("Date (UTC)");

// title
svg.append("text").attr("x",436).attr("y",18).attr("text-anchor","middle").attr("fill","#fff")
  .style("font-size","16px").style("font-weight","bold").style("white-space","pre")
  .text("De Bilt  (NL)  850 hPa Temp. & Precipitation | Mon, 05Jan2026 12Z");

// footer
svg.append("text").attr("x",120).attr("y",605).attr("fill","#e6e6e6").style("font-size","16px").text("GFS Ensemble, 52N, 5E");
svg.append("text").attr("x",794).attr("y",605).attr("text-anchor","end").attr("fill","#e6e6e6").style("font-size","16px").text("Wetterzentrale.de");

// legend
const leg = svg.append("g").style("font-size","10px");
function legItem(lx, ly, color, label, label2){
  leg.append("line").attr("x1",lx).attr("x2",lx+8).attr("y1",ly).attr("y2",ly).attr("stroke",color).attr("stroke-width",2);
  leg.append("text").attr("x",lx+9).attr("y",ly+3.8).attr("fill","#fff").text(label);
  if(label2) leg.append("text").attr("x",lx+9).attr("y",ly+14.8).attr("fill","#fff").text(label2);
}
memberNames.forEach((n,j)=>{
  const col = j%2, row = Math.floor(j/2);
  legItem(col? 55:0, 40+row*15, memberColors[j], n);
});
legItem(0, 265, "#0a0aff", "Control");
legItem(55, 265, "#ffffff", "Ens. mean");
legItem(55, 293, "#ff4444", "1991-2020", "mean");
legItem(0, 306, "#10dc10", "Oper");
</script></body></html>
